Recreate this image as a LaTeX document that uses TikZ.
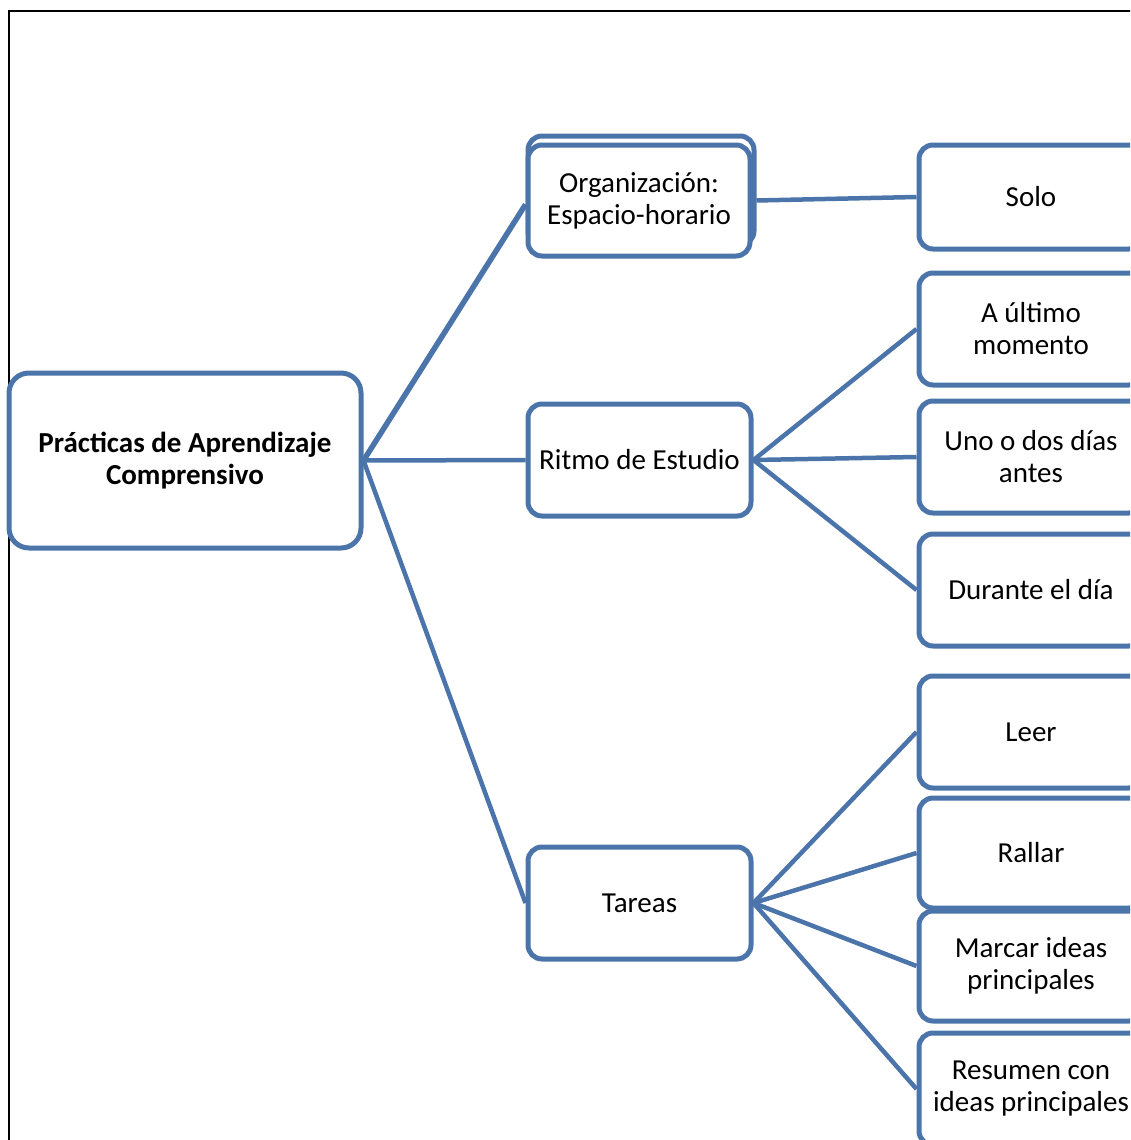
\documentclass[tikz,border=0pt]{standalone}
\usepackage{fontspec}
\setmainfont{Carlito}
\begin{document}
\begin{tikzpicture}[x=1pt,y=-1pt,
  every node/.style={font=\fontsize{29}{32}\selectfont},
  card/.style={draw=boxblue, line width=5pt, rounded corners=14pt, fill=white,
    align=center, inner sep=0pt, minimum width=#1},
  card/.default=224pt,
  link/.style={draw=boxblue, line width=4.5pt}]
\definecolor{boxblue}{RGB}{74,116,170}
\useasboundingbox (0,0) rectangle (1130,1140);
\clip (0,0) rectangle (1130,1140);
% page frame
\draw[line width=2.4pt, black] (9,1145) -- (9,11) -- (1135,11);

% root
\node[card=352pt, minimum height=175pt, rounded corners=20pt, font=\fontsize{29}{32}\selectfont\bfseries]
  (root) at (185,460.5) {Prácticas de Aprendizaje\\Comprensivo};

% second level
\node[card=226pt, minimum height=109pt] (orgback) at (641,190.5) {};
\node[card=222pt, minimum height=111pt] (org) at (639,200.5) {Organización:\\Espacio-horario};
\node[card=223pt, minimum height=112pt] (ritmo) at (639.5,460) {Ritmo de Estudio};
\node[card=223pt, minimum height=112pt] (tareas) at (639.5,903) {Tareas};

% third level
\node[card, minimum height=104pt] (solo) at (1031,197) {Solo};
\node[card, minimum height=112pt] (ultimo) at (1031,329) {A último\\momento};
\node[card, minimum height=112pt] (antes) at (1031,457) {Uno o dos días\\antes};
\node[card, minimum height=112pt] (dia) at (1031,590) {Durante el día};
\node[card, minimum height=112pt] (leer) at (1031,732) {Leer};
\node[card, minimum height=110pt] (rallar) at (1031,853) {Rallar};
\node[card, minimum height=110pt] (marcar) at (1031,966) {Marcar ideas\\principales};
\node[card, minimum height=112pt] (resumen) at (1031,1089) {Resumen con\\ideas principales};

% connectors
\path[link, line width=5.5pt] (root.east) -- ([yshift=-4pt]org.west);
\path[link] (root.east) -- (ritmo.west);
\path[link] (root.east) -- (tareas.west);
\path[link] (orgback.east |- org.east) -- (solo.west);
\path[link] (ritmo.east) -- (ultimo.west);
\path[link] (ritmo.east) -- (antes.west);
\path[link] (ritmo.east) -- (dia.west);
\path[link] (tareas.east) -- (leer.west);
\path[link] (tareas.east) -- (rallar.west);
\path[link] (tareas.east) -- (marcar.west);
\path[link] (tareas.east) -- (resumen.west);
\end{tikzpicture}
\end{document}
